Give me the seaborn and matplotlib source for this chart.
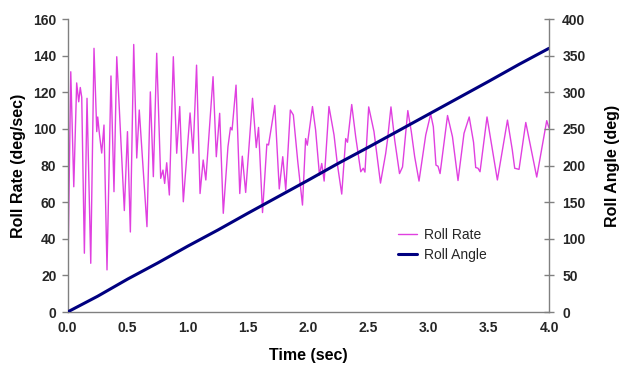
import numpy as np
import pandas as pd
import matplotlib
matplotlib.use("Agg")
import matplotlib.pyplot as plt
import seaborn as sns

# Roll rate trace (deg/sec) against time (sec)
time_rate = [
    0.000, 0.007, 0.027, 0.052, 0.076, 0.093, 0.106, 0.118, 0.140, 0.162,
    0.193, 0.220, 0.243, 0.251, 0.264, 0.284, 0.303, 0.328, 0.361, 0.386,
    0.409, 0.472, 0.498, 0.522, 0.550, 0.575, 0.596, 0.660, 0.688, 0.713,
    0.741, 0.774, 0.793, 0.807, 0.824, 0.846, 0.879, 0.907, 0.932, 0.962,
    1.018, 1.043, 1.072, 1.101, 1.127, 1.149, 1.209, 1.236, 1.264, 1.294,
    1.333, 1.354, 1.367, 1.400, 1.431, 1.452, 1.480, 1.537, 1.568, 1.587,
    1.620, 1.656, 1.670, 1.722, 1.759, 1.788, 1.813, 1.851, 1.876, 1.913,
    1.952, 1.978, 1.992, 2.035, 2.061, 2.093, 2.112, 2.132, 2.172, 2.214,
    2.241, 2.278, 2.311, 2.326, 2.361, 2.394, 2.436, 2.457, 2.471, 2.502,
    2.546, 2.600, 2.643, 2.658, 2.687, 2.718, 2.758, 2.783, 2.827, 2.856,
    2.884, 2.920, 2.976, 3.017, 3.039, 3.061, 3.078, 3.095, 3.157, 3.198,
    3.244, 3.294, 3.337, 3.373, 3.391, 3.410, 3.427, 3.485, 3.521, 3.571,
    3.655, 3.695, 3.715, 3.737, 3.751, 3.807, 3.842, 3.898, 3.981, 4.000,
]
roll_rate = [
    1.6, 39.3, 131.2, 68.4, 125.1, 114.8, 122.6, 117.3, 32.1, 116.7,
    26.6, 144.0, 98.5, 106.5, 97.8, 86.8, 102.1, 23.0, 128.9, 65.7,
    139.4, 55.4, 98.5, 43.7, 146.1, 84.1, 110.3, 46.6, 120.2, 73.9,
    141.3, 73.0, 77.5, 70.2, 81.5, 63.9, 139.4, 86.7, 112.2, 60.2,
    108.7, 86.7, 134.8, 64.7, 83.0, 72.1, 128.5, 84.8, 108.5, 53.9,
    90.3, 100.8, 99.4, 123.9, 64.7, 85.1, 65.3, 116.7, 89.8, 100.8,
    54.3, 91.7, 91.2, 112.8, 67.2, 84.8, 66.6, 110.3, 107.6, 82.0,
    58.4, 94.7, 91.1, 112.2, 99.4, 74.8, 81.1, 71.5, 112.2, 96.7,
    81.1, 64.4, 94.7, 92.7, 113.3, 95.7, 76.6, 78.5, 76.4, 112.0,
    98.5, 70.4, 86.5, 93.9, 112.0, 93.9, 75.6, 79.2, 110.0, 98.5,
    84.8, 71.5, 96.7, 108.1, 101.2, 80.2, 79.6, 75.6, 107.3, 95.7,
    71.8, 97.6, 106.5, 92.7, 78.9, 78.5, 76.6, 106.5, 92.1, 72.1,
    104.8, 88.5, 78.5, 78.1, 77.9, 103.5, 92.1, 73.7, 104.5, 100.5,
]

# Accumulated roll angle (deg)
time_angle = [0.0, 0.25, 0.5, 0.75, 1.0, 1.25, 1.5, 1.75, 2.0,
              2.25, 2.5, 2.75, 3.0, 3.25, 3.5, 3.75, 4.0]
roll_angle = [0.0, 21.5, 45.0, 67.0, 90.0, 112.0, 135.0, 157.5, 180.0,
              203.0, 225.0, 247.5, 270.0, 292.5, 315.0, 338.0, 360.0]

x_ticks = [0.0, 0.5, 1.0, 1.5, 2.0, 2.5, 3.0, 3.5, 4.0]
rate_ticks = [0, 20, 40, 60, 80, 100, 120, 140, 160]
angle_ticks = [0, 50, 100, 150, 200, 250, 300, 350, 400]

sns.set_style("white")
plt.rcParams['font.family'] = ['Liberation Sans', 'DejaVu Sans']

RATE_COLOR = "#E040E0"
ANGLE_COLOR = "#000080"
AXIS_GRAY = "#808080"

fig = plt.figure(figsize=(6.2, 3.65), dpi=100)
ax = fig.add_axes([0.1089, 0.1452, 0.7766, 0.8027])
ax2 = ax.twinx()

rate_df = pd.DataFrame({"Time": time_rate, "Roll Rate": roll_rate})
angle_df = pd.DataFrame({"Time": time_angle, "Roll Angle": roll_angle})

sns.lineplot(data=rate_df, x="Time", y="Roll Rate", ax=ax, color=RATE_COLOR,
             linewidth=1.0, estimator=None, label="Roll Rate", legend=False)
sns.lineplot(data=angle_df, x="Time", y="Roll Angle", ax=ax2, color=ANGLE_COLOR,
             linewidth=2.2, estimator=None, label="Roll Angle", legend=False)

ax.set_xlim(0, 4)
ax.set_ylim(0, 160)
ax2.set_ylim(0, 400)
ax.set_xticks(x_ticks)
ax.set_xticklabels([f"{v:.1f}" for v in x_ticks])
ax.set_yticks(rate_ticks)
ax2.set_yticks(angle_ticks)

label_font = dict(fontsize=11.5, fontweight="bold", color="black")
ax.set_xlabel("Time (sec)", labelpad=9, **label_font)
ax.set_ylabel("Roll Rate (deg/sec)", labelpad=5, **label_font)
ax2.set_ylabel("Roll Angle (deg)", labelpad=14, rotation=90, **label_font)

for a in (ax, ax2):
    a.spines["top"].set_visible(False)
    for s in ("left", "right", "bottom"):
        a.spines[s].set_color(AXIS_GRAY)
        a.spines[s].set_linewidth(1.0)
ax.spines["right"].set_visible(False)
ax2.spines["left"].set_visible(False)
ax2.spines["bottom"].set_visible(False)

ax.tick_params(axis="y", direction="out", length=4, width=1, color=AXIS_GRAY,
               labelsize=10, pad=4)
ax.tick_params(axis="x", direction="out", length=4, width=1, color=AXIS_GRAY,
               labelsize=10, pad=2.5)
ax2.tick_params(axis="y", direction="inout", length=7, width=1, color=AXIS_GRAY,
                labelsize=10, pad=6)
for lab in ax.get_xticklabels() + ax.get_yticklabels() + ax2.get_yticklabels():
    lab.set_fontweight("bold")

handles = ax.get_lines()[:1] + ax2.get_lines()[:1]
fig.legend(handles, ["Roll Rate", "Roll Angle"], loc="center left",
           bbox_to_anchor=(398 / 620, 1 - 245 / 365), frameon=False,
           fontsize=10, handlelength=1.4, handletextpad=0.5,
           labelspacing=0.45, borderpad=0, borderaxespad=0)

fig.savefig("out.png", dpi=100)
